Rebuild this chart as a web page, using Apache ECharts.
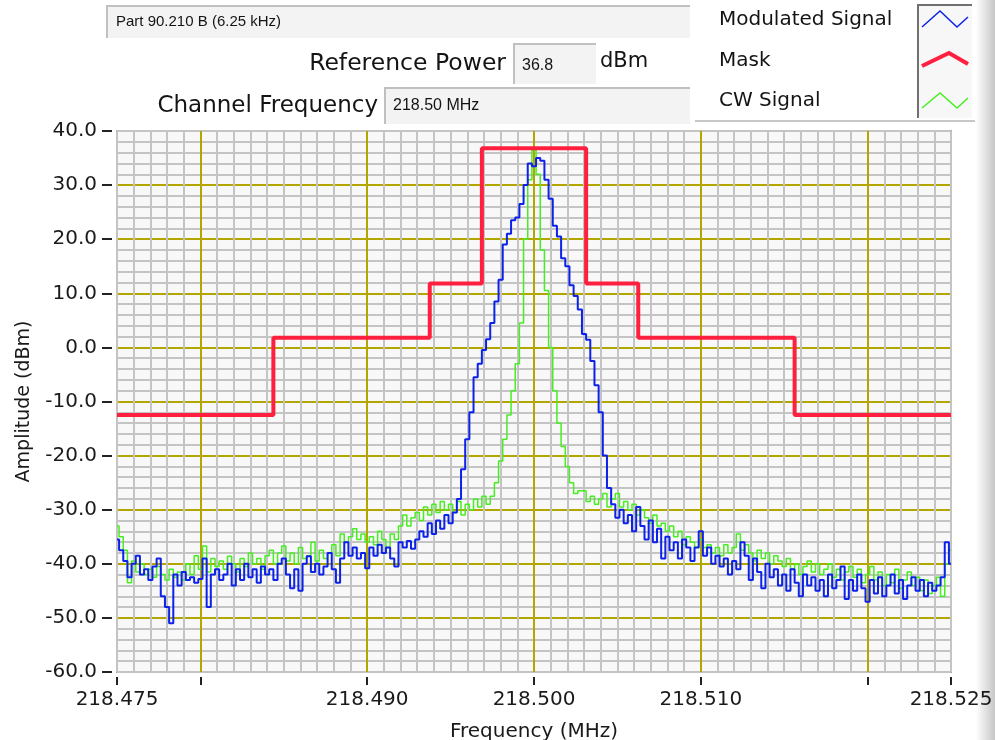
<!DOCTYPE html>
<html>
<head>
<meta charset="utf-8">
<title>Mask test</title>
<script src="https://cdn.jsdelivr.net/npm/echarts@6/dist/echarts.min.js"></script>
<style>
  html, body { margin: 0; padding: 0; background: #fff; }
  #chart { width: 995px; height: 740px; }
</style>
</head>
<body>
<div id="chart"></div>
<script>
// frequency grid of the traces (MHz)
const freqStart = 218.475
const freqStep = 0.00025

// Modulated Signal trace (dBm), one value per grid step
const modulated = [
  -35.5, -37.5, -39.5, -42.5, -40, -38.5, -42, -41, -43, -40.5,
  -39, -46, -48, -51, -42, -44, -41.5, -43, -42.5, -43.5,
  -42.8, -39, -48, -42, -41, -43, -42, -40, -44, -41,
  -43, -40, -42.5, -41, -43.5, -40.5, -42, -41, -43, -40,
  -39, -42, -44.5, -41, -45, -40, -38.6, -41.5, -40, -42,
  -40.5, -38, -41, -43.5, -39, -36, -38.5, -37, -39, -38,
  -40.8, -37, -38.5, -36.5, -38, -37, -39, -40.5, -36, -37,
  -35.8, -37.2, -35.5, -34, -35, -32.5, -34.5, -32, -33.5, -31,
  -32.5, -30.5, -28, -22.5, -17, -12, -5.5, -3, -0.5, 1.5,
  4.5, 8.5, 12.5, 19, 21, 23.5, 24, 26.5, 30, 34,
  33.5, 35, 34.5, 31, 27.5, 22.5, 20.5, 16.5, 15, 11.5,
  9.5, 7, 2.5, 1.4, -2.5, -7, -12, -20, -26, -29,
  -31.5, -30, -32.5, -31, -34, -29.5, -33, -35.5, -32, -36,
  -33.5, -39, -35, -37.5, -36, -39, -35.5, -37, -39.5, -37,
  -34, -38.5, -37, -40, -38.5, -40.5, -39, -42, -39.5, -41,
  -36, -38.5, -43, -39, -41.5, -44.5, -40, -42.5, -41, -44,
  -42, -45, -41, -43.5, -46, -42, -44, -42.5, -45, -43,
  -46, -42, -44.5, -43, -40.5, -46.5, -43, -45, -42, -44.5,
  -47, -43, -45.5, -42.5, -46, -44, -42, -45.5, -43, -46.5,
  -44, -42.5, -45, -43, -46, -43.5, -45, -44, -42.5, -36,
  -40
]

// CW Signal trace (dBm)
const cw = [
  -33, -35, -37.5, -43.5, -39.5, -41.5, -40, -42, -41, -42.5,
  -40.5, -42, -43, -41, -42.5, -41.5, -43, -40, -42, -38.5,
  -41, -36.7, -41.5, -39, -40.5, -39.5, -41, -38.6, -40, -41.5,
  -39, -40.5, -38, -40, -39, -41, -38.5, -37.5, -40, -38,
  -36.7, -39.5, -38, -40, -37, -39, -38.5, -36, -39.5, -37.5,
  -39, -38, -36.5, -38.5, -34.5, -36, -35, -33.5, -35.5, -34.5,
  -36, -35, -36.5, -34, -35.5, -37, -34.5, -35.5, -33, -31,
  -33, -31.5, -30.5, -32, -29.5, -31, -29, -30.5, -28.5, -30,
  -29, -30.5, -28.5, -31, -29, -30, -28, -29.5, -27.5, -29,
  -27.5, -25, -21, -17, -12.5, -8, -3, 4.5, 20, 31,
  36.5, 32, 18, 10.5, 0, -8, -14, -18.3, -22, -25,
  -27, -26.5, -26.5, -28.5, -27.5, -29, -28, -27, -29.5, -28,
  -27, -29.5, -28.5, -30, -29, -31, -30, -31.5, -32.5, -31,
  -33, -32.5, -34, -33, -35, -34, -36.5, -35, -36, -37,
  -35.5, -37, -36.5, -38, -37, -38.5, -36.5, -38, -37, -34.5,
  -37.5, -36.5, -38, -39.5, -37.5, -39, -38, -40, -38.5, -39.5,
  -40.5, -39, -41, -40, -42, -40.5, -39.5, -41.5, -40, -42,
  -41, -40, -42.5, -41, -43, -41.5, -40.5, -42.5, -41, -43.5,
  -42, -40.5, -43, -41.5, -44, -42, -43.5, -41, -44.5, -43,
  -41.5, -44, -42.5, -45, -43, -45.5, -44, -42.5, -46, -40,
  -37.5
]

// mask corners (MHz / dBm)
const maskFreq = [218.475, 218.484375, 218.484375, 218.49375, 218.49375, 218.496875, 218.496875,
  218.503125, 218.503125, 218.50625, 218.50625, 218.515625, 218.515625, 218.525]
const maskLevel = [-12.5, -12.5, 1.8, 1.8, 11.8, 11.8, 36.8, 36.8, 11.8, 11.8, 1.8, 1.8, -12.5, -12.5]

// axis ticks
const freqTicks = [218.475, 218.48, 218.49, 218.5, 218.51, 218.52, 218.525]
const freqLabels = [218.475, 218.49, 218.5, 218.51, 218.525]
const freqMajor = [218.48, 218.49, 218.5, 218.51, 218.52]

const BLUE = '#0c22ea'
const RED = '#ff1f3f'
const GREEN = '#46ee22'
const OLIVE = '#b3a600'
const GRAY = '#c4c4c4'
const FONT = '"DejaVu Sans", Verdana, sans-serif'
const BOXFONT = '"Liberation Sans", Arial, sans-serif'

const pairs = arr => arr.map((v, i) => [+(freqStart + i * freqStep).toFixed(6), v])
const maskData = maskFreq.map((f, i) => [f, maskLevel[i]])

const chart = echarts.init(document.getElementById('chart'))

// sunken box used by the indicators on top
function box (x, y, w, h) {
  return [
    { type: 'rect', shape: { x: x, y: y, width: w, height: h }, style: { fill: '#f3f3f3' } },
    { type: 'polyline', shape: { points: [[x, y + h], [x, y], [x + w, y]] }, style: { stroke: '#c0c0c0', lineWidth: 2, fill: null } }
  ]
}
function label (text, x, y, size, align, font) {
  return {
    type: 'text', x: x, y: y,
    style: { text: text, fill: '#141414', font: size + 'px ' + (font || FONT), align: align || 'left', verticalAlign: 'middle' }
  }
}

const graphic = [].concat(
  box(107, 6, 583, 32),
  [label('Part 90.210 B (6.25 kHz)', 116, 22, 15, 'left', BOXFONT)],
  [label('Reference Power', 506, 64, 23.5, 'right')],
  box(514, 44, 82, 40),
  [label('36.8', 522, 66, 16, 'left', BOXFONT)],
  [label('dBm', 600, 62, 21, 'left')],
  [label('Channel Frequency', 378, 106, 23, 'right')],
  box(385, 88, 305, 36),
  [label('218.50 MHz', 393, 106, 16, 'left', BOXFONT)],
  // legend
  [
    { type: 'rect', shape: { x: 918, y: 5, width: 54, height: 113 }, style: { fill: '#f7f7f7' } },
    { type: 'polyline', shape: { points: [[918, 118], [918, 5], [972, 5]] }, style: { stroke: '#707070', lineWidth: 2, fill: null } },
    { type: 'line', shape: { x1: 695, y1: 121, x2: 975, y2: 121 }, style: { stroke: '#c8c8c8', lineWidth: 2 } },
    label('Modulated Signal', 719, 20, 20),
    label('Mask', 719, 61, 20),
    label('CW Signal', 719, 101, 20),
    { type: 'polyline', shape: { points: [[922, 27], [940, 11], [957, 27], [968, 17]] }, style: { stroke: BLUE, lineWidth: 1.5, fill: null } },
    { type: 'polyline', shape: { points: [[922, 66], [949, 53], [968, 64]] }, style: { stroke: RED, lineWidth: 4, fill: null } },
    { type: 'polyline', shape: { points: [[922, 108], [940, 93], [957, 108], [968, 98]] }, style: { stroke: GREEN, lineWidth: 1.5, fill: null } },
    // frame edge on the right
    {
      type: 'rect', shape: { x: 976, y: 0, width: 19, height: 740 },
      style: { fill: new echarts.graphic.LinearGradient(0, 0, 1, 0, [{ offset: 0, color: '#ffffff' }, { offset: 1, color: '#c6c6c6' }]) }
    }
  ]
)

const option = {
  animation: false,
  backgroundColor: '#ffffff',
  grid: {
    left: 117, right: 44, top: 131, bottom: 68,
    outerBoundsMode: 'none', containLabel: false,
    show: true, backgroundColor: '#f8f8f8', borderColor: '#a0a0a0', borderWidth: 2
  },
  graphic: graphic,
  xAxis: [
    {
      // minor grid
      type: 'value', min: 218.475, max: 218.525, interval: 0.001,
      axisLine: { show: false, onZero: false }, axisTick: { show: false }, axisLabel: { show: false },
      splitLine: { show: true, lineStyle: { color: GRAY, width: 2 } }
    },
    {
      type: 'value', min: 218.475, max: 218.525, position: 'bottom', offset: 5,
      axisLine: { show: false, onZero: false },
      axisTick: { show: true, customValues: freqTicks, length: 8, lineStyle: { color: '#222', width: 2 } },
      axisLabel: {
        customValues: freqLabels, margin: 13, fontSize: 20, fontFamily: FONT, color: '#1a1a1a',
        formatter: v => v.toFixed(3)
      },
      splitLine: { show: false },
      name: 'Frequency (MHz)', nameLocation: 'middle', nameGap: 45,
      nameTextStyle: { fontSize: 20, fontFamily: FONT, color: '#1a1a1a' }
    }
  ],
  yAxis: [
    {
      type: 'value', min: -60, max: 40, interval: 2,
      axisLine: { show: false, onZero: false }, axisTick: { show: false }, axisLabel: { show: false },
      splitLine: { show: true, lineStyle: { color: GRAY, width: 2 } }
    },
    {
      type: 'value', min: -60, max: 40, interval: 10, position: 'left', offset: 5,
      axisLine: { show: false, onZero: false },
      axisTick: { show: true, length: 10, lineStyle: { color: '#222', width: 2 } },
      axisLabel: { margin: 15, fontSize: 20, fontFamily: FONT, color: '#1a1a1a', formatter: v => v.toFixed(1) },
      splitLine: { show: true, showMinLine: false, showMaxLine: false, lineStyle: { color: OLIVE, width: 2 } },
      name: 'Amplitude (dBm)', nameLocation: 'middle', nameGap: 78,
      nameTextStyle: { fontSize: 19, fontFamily: FONT, color: '#1a1a1a' }
    }
  ],
  series: [
    {
      name: 'CW Signal', type: 'line', xAxisIndex: 0, yAxisIndex: 0, step: 'middle',
      data: pairs(cw), showSymbol: false, symbol: 'none',
      lineStyle: { color: GREEN, width: 1.5 }, itemStyle: { color: GREEN }, z: 3
    },
    {
      name: 'Modulated Signal', type: 'line', xAxisIndex: 0, yAxisIndex: 0, step: 'middle',
      data: pairs(modulated), showSymbol: false, symbol: 'none',
      lineStyle: { color: BLUE, width: 2 }, itemStyle: { color: BLUE }, z: 4
    },
    {
      name: 'Mask', type: 'line', xAxisIndex: 0, yAxisIndex: 0,
      data: maskData, showSymbol: false, symbol: 'none',
      lineStyle: { color: RED, width: 4 }, itemStyle: { color: RED }, z: 5,
      // major vertical grid
      markLine: {
        silent: true, symbol: 'none', label: { show: false }, z: 1,
        lineStyle: { color: OLIVE, width: 2, type: 'solid' },
        data: freqMajor.map(f => ({ xAxis: f }))
      }
    }
  ]
}

chart.setOption(option)
</script>
</body>
</html>
